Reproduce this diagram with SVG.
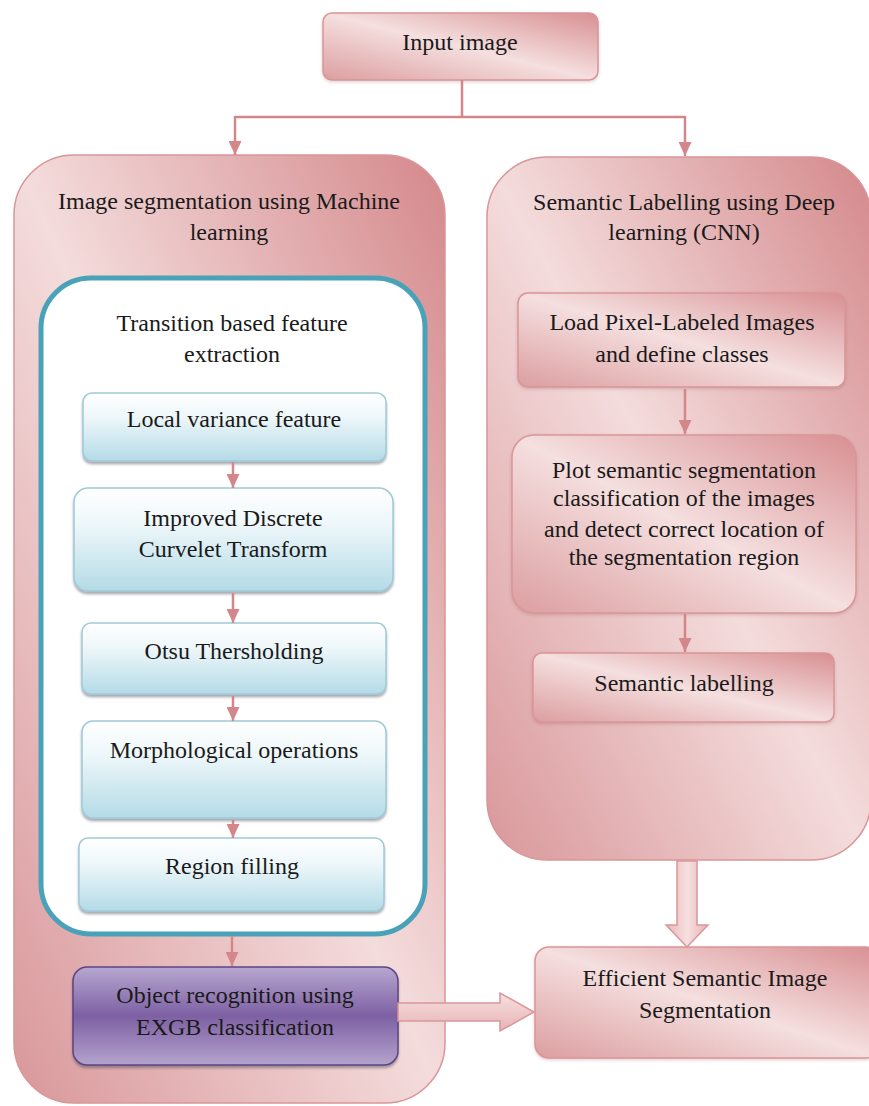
<svg xmlns="http://www.w3.org/2000/svg" width="869" height="1106" viewBox="0 0 869 1106">
<defs>
<linearGradient id="pinkBig" x1="1" y1="0" x2="0" y2="1">
<stop offset="0" stop-color="#d4888b"/>
<stop offset="0.5" stop-color="#f4dcdc"/>
<stop offset="1" stop-color="#d9979a"/>
</linearGradient>
<linearGradient id="pinkBox" x1="1" y1="0" x2="0" y2="1">
<stop offset="0" stop-color="#d88f92"/>
<stop offset="0.5" stop-color="#f5dfdf"/>
<stop offset="1" stop-color="#dc9ea0"/>
</linearGradient>
<linearGradient id="blueBox" x1="0" y1="0" x2="0" y2="1">
<stop offset="0" stop-color="#ffffff"/>
<stop offset="0.35" stop-color="#eef7fa"/>
<stop offset="1" stop-color="#b4dbe7"/>
</linearGradient>
<linearGradient id="purpleBox" x1="0" y1="0" x2="0" y2="1">
<stop offset="0" stop-color="#b7a7d0"/>
<stop offset="0.5" stop-color="#7d60a3"/>
<stop offset="1" stop-color="#b4a3cd"/>
</linearGradient>
<linearGradient id="blockArrowH" x1="0" y1="0" x2="0" y2="1">
<stop offset="0" stop-color="#f6e0e0"/>
<stop offset="1" stop-color="#e8b3b5"/>
</linearGradient>
<linearGradient id="blockArrowV" x1="0" y1="0" x2="1" y2="0">
<stop offset="0" stop-color="#e8b3b5"/>
<stop offset="0.5" stop-color="#f6e0e0"/>
<stop offset="1" stop-color="#e8b3b5"/>
</linearGradient>
<filter id="shadow" x="-10%" y="-10%" width="120%" height="130%">
<feDropShadow dx="0" dy="2.5" stdDeviation="1.2" flood-color="#445" flood-opacity="0.45"/>
</filter>
<filter id="softShadow" x="-10%" y="-10%" width="120%" height="130%">
<feDropShadow dx="0" dy="1.5" stdDeviation="1.5" flood-color="#844" flood-opacity="0.25"/>
</filter>
<marker id="arrow" viewBox="0 0 14 13" refX="14" refY="6.5" markerWidth="14" markerHeight="13" markerUnits="userSpaceOnUse" orient="auto">
<path d="M0,0 L14,6.5 L0,13 Z" fill="#d4878a"/>
</marker>
<style>
.t{font-family:'Liberation Serif','Tinos','DejaVu Serif','Noto Serif',serif;font-size:24px;fill:#1a1a1a;text-anchor:middle}
.big{fill:url(#pinkBig);stroke:#d99598;stroke-width:1.5}
.pbox{fill:url(#pinkBox);stroke:#d99598;stroke-width:1.5}
.bbox{fill:url(#blueBox);stroke:#9fcad8;stroke-width:1.5}
.conn{fill:none;stroke:#d4878a;stroke-width:2.5}
.block{stroke:#d9979a;stroke-width:1.5}
</style>
</defs>
<rect width="869" height="1106" fill="#ffffff"/>

<g id="input-image">
<rect class="pbox" x="323" y="13" width="275" height="67" rx="9" filter="url(#softShadow)"/>
<text class="t" x="460" y="50">Input image</text>
</g>

<g id="ml-container">
<rect class="big" x="14" y="155" width="431" height="948" rx="60"/>
<text class="t" x="229" y="209">Image segmentation using Machine</text>
<text class="t" x="229" y="240">learning</text>
</g>

<g id="dl-container">
<rect class="big" x="487" y="157" width="384" height="703" rx="60"/>
<text class="t" x="684" y="210">Semantic Labelling using Deep</text>
<text class="t" x="684" y="240">learning (CNN)</text>
</g>

<g id="feature-extraction">
<rect x="41" y="278" width="384" height="656" rx="50" fill="#ffffff" stroke="#4aa2b8" stroke-width="5"/>
<text class="t" x="232" y="331">Transition based feature</text>
<text class="t" x="232" y="362">extraction</text>
</g>

<g id="local-variance">
<rect class="bbox" x="83" y="393" width="303" height="68" rx="9" filter="url(#shadow)"/>
<text class="t" x="234" y="427">Local variance feature</text>
</g>

<g id="curvelet">
<rect class="bbox" x="74" y="488" width="319" height="103" rx="14" filter="url(#shadow)"/>
<text class="t" x="233" y="526">Improved Discrete</text>
<text class="t" x="233" y="557">Curvelet Transform</text>
</g>

<g id="otsu">
<rect class="bbox" x="82" y="623" width="304" height="71" rx="9" filter="url(#shadow)"/>
<text class="t" x="234" y="659">Otsu Thersholding</text>
</g>

<g id="morphological">
<rect class="bbox" x="82" y="721" width="304" height="97" rx="11" filter="url(#shadow)"/>
<text class="t" x="234" y="758">Morphological operations</text>
</g>

<g id="region-filling">
<rect class="bbox" x="79" y="838" width="305" height="73" rx="9" filter="url(#shadow)"/>
<text class="t" x="232" y="874">Region filling</text>
</g>

<g id="object-recognition">
<rect x="73" y="967" width="325" height="98" rx="14" fill="url(#purpleBox)" stroke="#5b4585" stroke-width="1.5" filter="url(#shadow)"/>
<text class="t" x="235" y="1003">Object recognition using</text>
<text class="t" x="235" y="1035">EXGB classification</text>
</g>

<g id="load-pixel">
<rect class="pbox" x="518" y="293" width="327" height="94" rx="10" filter="url(#softShadow)"/>
<text class="t" x="682" y="330">Load Pixel-Labeled Images</text>
<text class="t" x="682" y="362">and define classes</text>
</g>

<g id="plot-semantic">
<rect class="pbox" x="512" y="435" width="344" height="178" rx="22" filter="url(#softShadow)"/>
<text class="t" x="684" y="478">Plot semantic segmentation</text>
<text class="t" x="684" y="506">classification of the images</text>
<text class="t" x="684" y="537">and detect correct location of</text>
<text class="t" x="684" y="565">the segmentation region</text>
</g>

<g id="semantic-labelling">
<rect class="pbox" x="533" y="653" width="301" height="69" rx="9" filter="url(#softShadow)"/>
<text class="t" x="684" y="691">Semantic labelling</text>
</g>

<g id="efficient-segmentation">
<rect class="pbox" x="535" y="947" width="345" height="111" rx="14" filter="url(#softShadow)"/>
<text class="t" x="705" y="986">Efficient Semantic Image</text>
<text class="t" x="705" y="1018">Segmentation</text>
</g>

<g id="connectors">
<path class="conn" d="M462,80 V117"/>
<path class="conn" d="M235,117 H685"/>
<path class="conn" d="M235,116 V155" marker-end="url(#arrow)"/>
<path class="conn" d="M685,116 V156" marker-end="url(#arrow)"/>
<path class="conn" d="M233,462 V488" marker-end="url(#arrow)"/>
<path class="conn" d="M233,593 V623" marker-end="url(#arrow)"/>
<path class="conn" d="M233,696 V721" marker-end="url(#arrow)"/>
<path class="conn" d="M233,820 V838" marker-end="url(#arrow)"/>
<path class="conn" d="M232,936 V966" marker-end="url(#arrow)"/>
<path class="conn" d="M685,389 V434" marker-end="url(#arrow)"/>
<path class="conn" d="M685,614 V652" marker-end="url(#arrow)"/>
<polygon class="block" fill="url(#blockArrowH)" points="398,1003 500,1003 500,993 534,1012 500,1031 500,1021 398,1021"/>
<polygon class="block" fill="url(#blockArrowV)" points="677,861 697,861 697,925 708,925 687,947 666,925 677,925"/>
</g>
</svg>
